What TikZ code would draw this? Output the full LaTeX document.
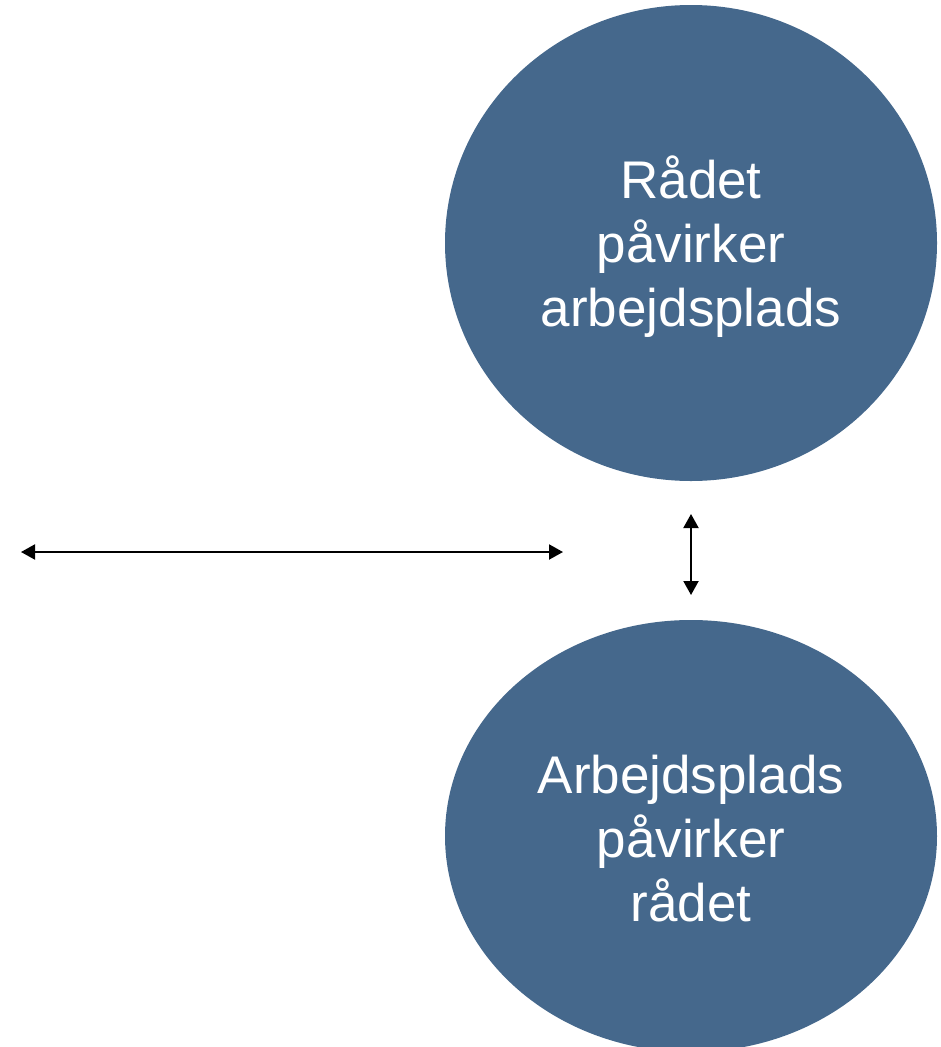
\documentclass[tikz,border=0pt]{standalone}
\usepackage{fontspec}
\setmainfont{Liberation Sans}
\usetikzlibrary{shapes.geometric,arrows.meta}
\definecolor{circblue}{RGB}{69,104,140}
\tikzset{
  bubble/.style={ellipse, fill=circblue, inner sep=0pt, minimum width=492pt},
  bubbletext/.style={text=white, align=center, inner sep=0pt, font=\fontsize{53}{64}\selectfont},
  dblarrow/.style={line width=2pt, {Triangle[length=14pt,width=15pt]}-{Triangle[length=14pt,width=15pt]}}
}
\begin{document}
\begin{tikzpicture}[x=1pt,y=-1pt]
\useasboundingbox (0,0) rectangle (941,1047);
\clip (0,0) rectangle (941,1047);
\node[bubble, minimum height=476pt] (top) at (691,243) {};
\node[bubbletext] (toptext) at ([yshift=-4pt]top.center) {Rådet\\påvirker\\arbejdsplads};
\node[bubble, minimum height=432pt] (bottom) at (691,836) {};
\node[bubbletext] (bottomtext) at ([yshift=-3pt]bottom.center) {Arbejdsplads\\påvirker\\rådet};
\coordinate (vtop) at (691,514);
\coordinate (vbot) at (691,595);
\draw[dblarrow] (vtop) -- (vbot);
\coordinate (hl) at (21,552);
\coordinate (hr) at (563,552);
\draw[dblarrow] (hl) -- (hr);
\end{tikzpicture}
\end{document}
